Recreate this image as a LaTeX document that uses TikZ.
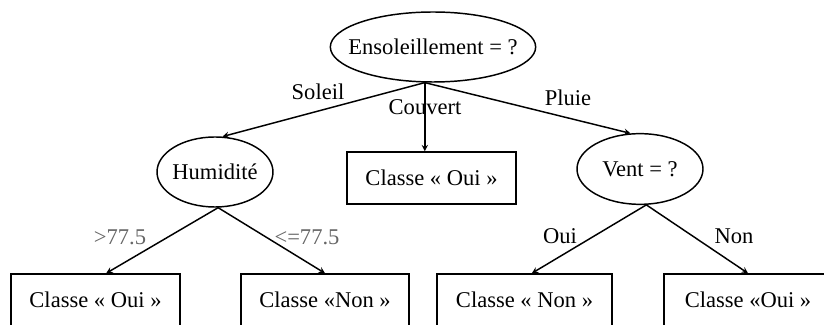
\documentclass[tikz,border=0pt]{standalone}
\usepackage{fontspec}
\setmainfont{Liberation Serif}
\usetikzlibrary{shapes.geometric, arrows}
\tikzstyle{question} = [ellipse, draw=black, line width=1.1pt, inner sep=0pt, font=\fontsize{16.9}{20}\selectfont]
\tikzstyle{classe} = [rectangle, draw=black, line width=1.1pt, minimum height=39pt, inner sep=0pt, font=\fontsize{16.9}{20}\selectfont]
\tikzstyle{branche} = [inner sep=0pt, font=\fontsize{16.9}{20}\selectfont]
\tikzstyle{seuil} = [branche, text=black!60]
\tikzstyle{arrow} = [line width=1.1pt,->,>=stealth]

\begin{document}
\begin{tikzpicture}[x=0.75pt, y=-0.75pt]
\useasboundingbox (0,0) rectangle (824,327);
\clip (0,0) rectangle (824,325);

\node (ensol) [question, minimum width=154pt, minimum height=52.5pt] at (433,47) {\makebox[0pt]{Ensoleillement = ?}};
\node (humid) [question, minimum width=87pt, minimum height=52.5pt] at (215,172) {\makebox[0pt]{Humidité}};
\node (vent) [question, minimum width=94.5pt, minimum height=53pt] at (640,169) {\makebox[0pt]{Vent = ?}};
\node (couvertOui) [classe, minimum width=127pt] at (431.5,178) {Classe « Oui »};
\node (humidOui) [classe, minimum width=127pt] at (95.5,300) {Classe « Oui »};
\node (humidNon) [classe, minimum width=126pt] at (325,300) {Classe «Non »};
\node (ventNon) [classe, minimum width=131pt] at (524.5,300) {Classe « Non »};
\node (ventOui) [classe, minimum width=126pt] at (748,300) {Classe «Oui »};

\draw [arrow] (ensol.257) -- (humid.78);
\draw [arrow] (ensol.257) -- (ensol.257 |- couvertOui.north);
\draw [arrow] (ensol.257) -- (vent.105);
\draw [arrow] (humid.-85) -- ([xshift=8pt]humidOui.north);
\draw [arrow] (humid.-85) -- (humidNon.north);
\draw [arrow] (vent.-80) -- ([xshift=5.5pt]ventNon.north);
\draw [arrow] (vent.-80) -- (ventOui.north);

\node (soleil) [branche] at (318,92) {Soleil};
\node (couvert) [branche] at (425,107) {Couvert};
\node (pluie) [branche] at (568,98) {Pluie};
\node (sup) [seuil] at (120,237) {>77.5};
\node (infeg) [seuil] at (307,237) {<=77.5};
\node (oui) [branche] at (560,236) {Oui};
\node (non) [branche] at (734,236) {Non};

\end{tikzpicture}
\end{document}
